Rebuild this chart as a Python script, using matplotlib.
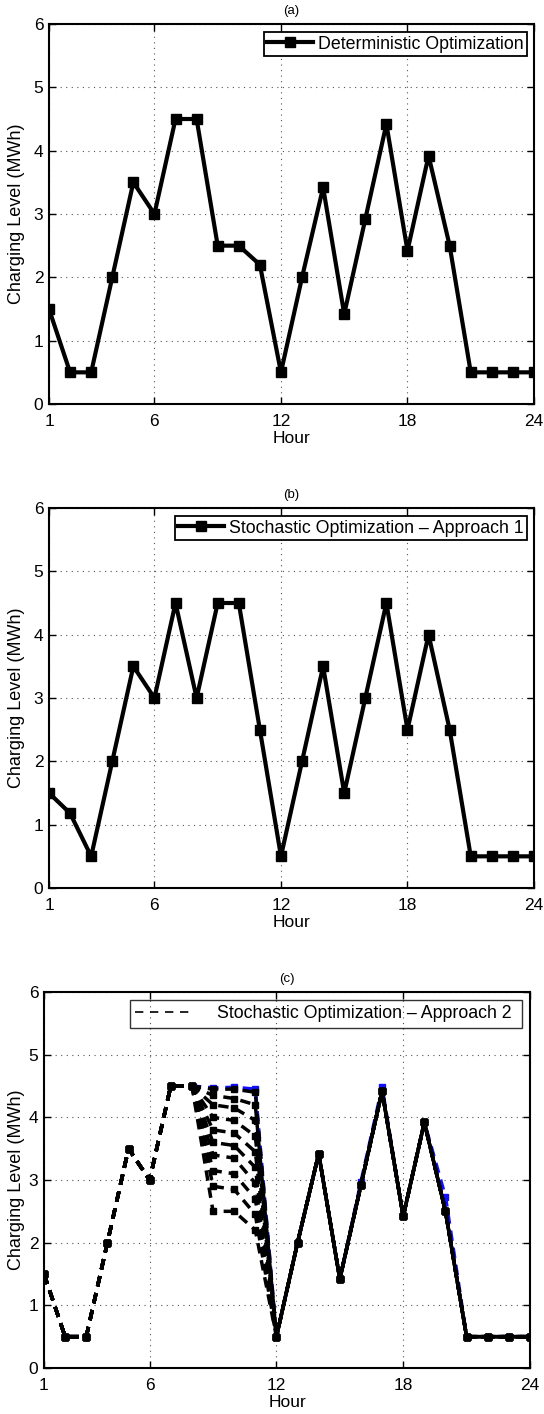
import matplotlib
matplotlib.use("Agg")
import matplotlib.pyplot as plt
from matplotlib.lines import Line2D

plt.rcParams['font.family'] = ['Liberation Sans', 'DejaVu Sans']

hours = list(range(1, 25))

deterministic = [1.5, 0.5, 0.5, 2.0, 3.5, 3.0, 4.5, 4.5, 2.5, 2.5, 2.2, 0.5,
                 2.0, 3.42, 1.42, 2.92, 4.42, 2.42, 3.92, 2.5, 0.5, 0.5, 0.5, 0.5]

stochastic_1 = [1.5, 1.18, 0.5, 2.0, 3.5, 3.0, 4.5, 3.0, 4.5, 4.5, 2.5, 0.5,
                2.0, 3.5, 1.5, 3.0, 4.5, 2.5, 4.0, 2.5, 0.5, 0.5, 0.5, 0.5]

# Approach 2: scenarios share hours 1-8 and 12-24, differ in hours 9-11
common_head = [1.5, 0.5, 0.5, 2.0, 3.5, 3.0, 4.5, 4.5]
common_tail = [0.5, 2.0, 3.42, 1.42, 2.92, 4.42, 2.42, 3.92, 2.5, 0.5, 0.5, 0.5, 0.5]
scenario_mid = [
    [2.5, 2.5, 2.2],
    [2.9, 2.85, 2.45],
    [3.15, 3.1, 2.7],
    [3.4, 3.35, 2.95],
    [3.6, 3.55, 3.2],
    [3.8, 3.75, 3.45],
    [4.0, 3.95, 3.7],
    [4.2, 4.15, 3.95],
    [4.35, 4.3, 4.2],
    [4.45, 4.45, 4.4],
]
blue_scenario = [1.5, 0.5, 0.5, 2.0, 3.5, 3.0, 4.5, 4.5, 4.47, 4.48, 4.45, 0.5,
                 2.0, 3.42, 1.42, 2.97, 4.48, 2.42, 3.92, 2.73, 0.5, 0.5, 0.5, 0.5]

xticks = [1, 6, 12, 18, 24]
yticks = [0, 1, 2, 3, 4, 5, 6]
titles = ['(a)', '(b)', '(c)']
legend_labels = ['Deterministic Optimization',
                 'Stochastic Optimization \u2013 Approach 1',
                 'Stochastic Optimization \u2013 Approach 2 ']

W, H = 544, 1414
fig = plt.figure(figsize=(W / 100, H / 100), dpi=100)

# panel boxes in pixels: (left, right, top, bottom)
panel_boxes = [(49, 534, 24, 404), (49, 534, 508, 888), (44, 530, 992, 1368)]

axes = []
for (l, r, t, b) in panel_boxes:
    ax = fig.add_axes([l / W, 1 - b / H, (r - l) / W, (b - t) / H])
    axes.append(ax)


def style_axis(ax, title, box):
    l, r, t, b = box
    w, h = r - l, b - t
    ax.set_xlim(1, 24)
    ax.set_ylim(0, 6)
    ax.set_xticks(xticks)
    ax.set_yticks(yticks)
    ax.tick_params(direction='in', length=5, width=1, top=True, right=True,
                   labelsize=12.5)
    ax.tick_params(axis='x', pad=7)
    ax.tick_params(axis='y', pad=4)
    ax.grid(True, linestyle=(0, (1, 4)), color='#555555', linewidth=0.8)
    for s in ax.spines.values():
        s.set_linewidth(1.5)
    ax.set_xlabel('Hour', fontsize=12.5)
    ax.xaxis.set_label_coords(0.5, -27 / h)
    ax.set_ylabel('Charging Level (MWh)', fontsize=13)
    ax.yaxis.set_label_coords(-(l - 25) / w, 0.5)
    ax.set_title(title, fontsize=9.5, pad=7)


solid_kw = dict(color='black', linewidth=3, marker='s', markersize=7.5)

# (a) deterministic
ax = axes[0]
style_axis(ax, titles[0], panel_boxes[0])
ax.plot(hours, deterministic, label=legend_labels[0], **solid_kw)

# (b) stochastic approach 1
ax = axes[1]
style_axis(ax, titles[1], panel_boxes[1])
ax.plot(hours, stochastic_1, label=legend_labels[1], **solid_kw)

for a, box in zip(axes[:2], panel_boxes[:2]):
    w = box[1] - box[0]
    h = box[3] - box[2]
    leg = a.legend(loc='upper right', bbox_to_anchor=(1 - 7 / w, 1 - 8 / h),
                   borderaxespad=0, fontsize=12.8, fancybox=False, edgecolor='black',
                   framealpha=1, handletextpad=0.25, borderpad=0.2,
                   handlelength=2.6)
    leg.get_frame().set_linewidth(1.3)

# (c) stochastic approach 2
ax = axes[2]
style_axis(ax, titles[2], panel_boxes[2])
dash_kw = dict(linestyle=(0, (3, 2)), linewidth=2.5, marker='s', markersize=5)
for mid in scenario_mid:
    vals = common_head + mid + common_tail
    ax.plot(hours, vals, color='black', **dash_kw)
ax.plot(hours, blue_scenario, color='#1010ff', zorder=1.9, **dash_kw)

box = panel_boxes[2]
w = box[1] - box[0]
h = box[3] - box[2]
handle = Line2D([], [], color='black', linestyle=(0, (5, 4)), linewidth=1.2)
leg = ax.legend([handle], [legend_labels[2]], loc='upper right',
                bbox_to_anchor=(1 - 8 / w, 1 - 8 / h), borderaxespad=0,
                fontsize=12.8, fancybox=False, edgecolor='black',
                handlelength=3.2, handletextpad=1.4, borderpad=0.3)
leg.get_frame().set_facecolor('none')
leg.get_frame().set_linewidth(1.0)

fig.savefig('out.png', dpi=100)
